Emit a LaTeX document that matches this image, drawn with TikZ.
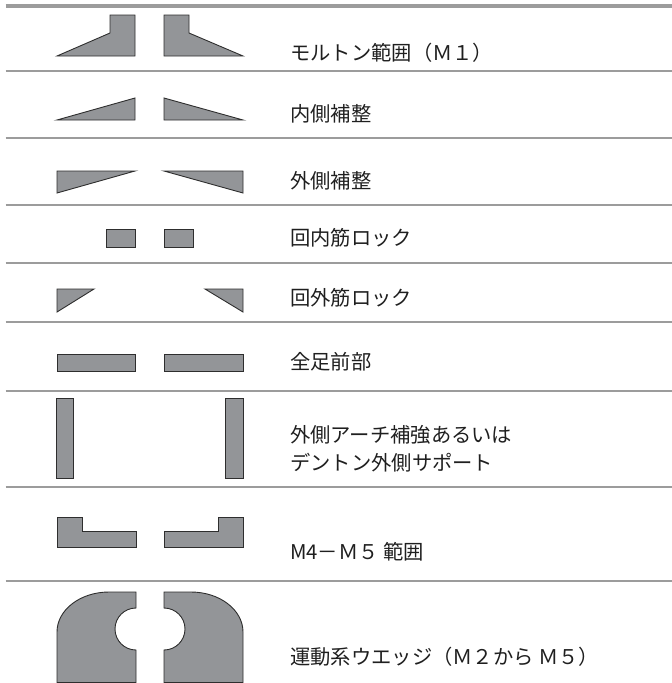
\documentclass[tikz,border=0pt]{standalone}
\usepackage{fontspec}
\newfontfamily\jpfont{Noto Sans CJK JP}
\definecolor{sepgray}{HTML}{9C9C9C}
\definecolor{shapegray}{HTML}{939598}
\definecolor{outline}{HTML}{2E2E2E}
\begin{document}
\begin{tikzpicture}[x=1pt,y=-1pt,
  sepline/.style={draw=sepgray,line width=2pt},
  topbar/.style={draw=sepgray,line width=4pt},
  shp/.style={fill=shapegray,draw=outline,line width=0.9pt,line join=miter},
  lbl/.style={anchor=west,inner sep=0pt,font=\jpfont\fontsize{20.3}{28}\selectfont,text=black!88}]
\useasboundingbox (0,0) rectangle (672,683);
% separators
\draw[topbar] (5.5,5.5) -- (672,5.5);
\foreach \yy in {71,138,205,263,322,391,487,581}
  \draw[sepline] (5.5,\yy) -- (672,\yy);
% row 1: Morton extension
\draw[shp] (57,56) -- (110,33) -- (110,15) -- (135,15) -- (135,56) -- cycle;
\draw[shp] (164,56) -- (164,15) -- (189,15) -- (189,33) -- (243,56) -- cycle;
\node[lbl] (t1) at (290,53) {モルトン範囲（Ｍ１）};
% row 2: medial post
\draw[shp] (57,120) -- (135,120) -- (135,98) -- cycle;
\draw[shp] (164,98) -- (164,120) -- (243,120) -- cycle;
\node[lbl] (t2) at (290,114) {内側補整};
% row 3: lateral post
\draw[shp] (57,171) -- (135,171) -- (57,193) -- cycle;
\draw[shp] (164,171) -- (243,171) -- (243,193) -- cycle;
\node[lbl] (t3) at (290,181) {外側補整};
% row 4: pronation lock
\draw[shp] (106,229) rectangle (135,247);
\draw[shp] (164,229) rectangle (193,247);
\node[lbl] (t4) at (290,238) {回内筋ロック};
% row 5: supination lock
\draw[shp] (57,289) -- (94,289) -- (57,312) -- cycle;
\draw[shp] (205,289) -- (243,289) -- (243,312) -- cycle;
\node[lbl] (t5) at (290,298) {回外筋ロック};
% row 6: forefoot
\draw[shp] (57,354) rectangle (135,371);
\draw[shp] (164,354) rectangle (243,371);
\node[lbl] (t6) at (290,362) {全足前部};
% row 7: lateral arch
\draw[shp] (56,398) rectangle (73,478);
\draw[shp] (225,398) rectangle (243,478);
\node[lbl] (t7a) at (290,435) {外側アーチ補強あるいは};
\node[lbl] (t7b) at (290,463) {デントン外側サポート};
% row 8: M4-M5
\draw[shp] (57,517) -- (82,517) -- (82,531) -- (136,531) -- (136,547) -- (57,547) -- cycle;
\draw[shp] (164,531) -- (218,531) -- (218,517) -- (243,517) -- (243,547) -- (164,547) -- cycle;
\node[lbl] (t8) at (290,552) {M4－Ｍ５ 範囲};
% row 9: kinetic wedge
\draw[shp] (136,592) -- (136,608) arc[start angle=270,end angle=90,radius=21]
  -- (136,682.5) -- (57,682.5) -- (57,632)
  arc[start angle=180,end angle=270,x radius=52,y radius=40] -- cycle;
\draw[shp] (164,592) -- (164,608) arc[start angle=-90,end angle=90,radius=21]
  -- (164,682.5) -- (243,682.5) -- (243,632)
  arc[start angle=0,end angle=-90,x radius=52,y radius=40] -- cycle;
\node[lbl] (t9) at (290,657) {運動系ウエッジ（Ｍ２から Ｍ５）};
\end{tikzpicture}
\end{document}
